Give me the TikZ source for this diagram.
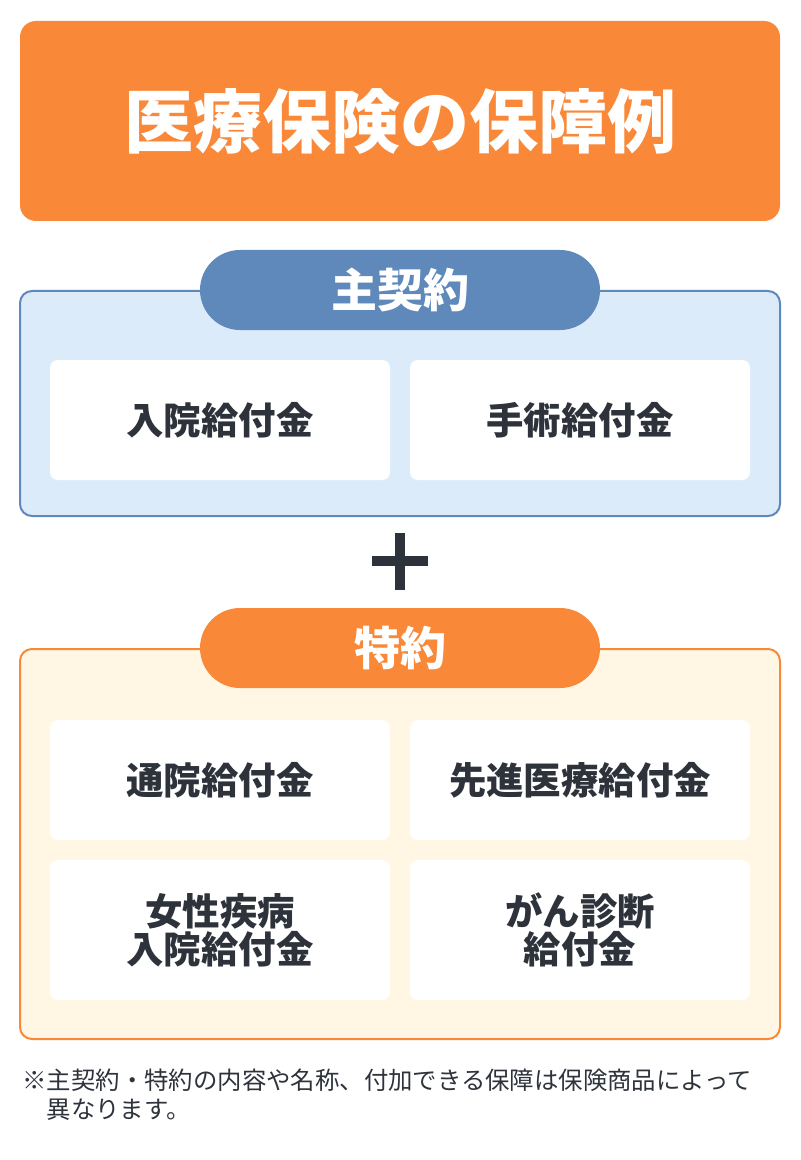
\documentclass[tikz,border=0pt]{standalone}
\usepackage{fontspec}
\setmainfont{Noto Sans CJK JP}
\usetikzlibrary{positioning}
\definecolor{hdorange}{HTML}{F98838}
\definecolor{mainblue}{HTML}{5E89BA}
\definecolor{mainfill}{HTML}{DCEBFA}
\definecolor{subfill}{HTML}{FFF7E4}
\definecolor{txtdark}{HTML}{2E333B}

\begin{document}
\begin{tikzpicture}[x=0.5pt,y=-0.5pt,
  item/.style={fill=white, rounded corners=4pt, minimum width=170pt, minimum height=60pt,
    inner sep=0pt, align=center, text=txtdark, font=\bfseries\fontsize{18.7}{19}\selectfont},
  tallitem/.style={item, minimum height=70pt},
  pill/.style={rounded corners=20pt, minimum width=200pt, minimum height=40pt, inner sep=0pt,
    text=white, font=\bfseries\fontsize{23}{24}\selectfont}]
\useasboundingbox (0,0) rectangle (800,1160);
% title
\node[fill=hdorange, rounded corners=8pt, minimum width=380pt, minimum height=100pt, text=white,
  font=\bfseries\fontsize{34.5}{36}\selectfont] (title) at (400,121) {医療保険の保障例};
% main contract
\draw[rounded corners=6pt, draw=mainblue, fill=mainfill, line width=1pt] (20,291) rectangle (780,516);
\node[pill, fill=mainblue] (shu) at (400,290) {主契約};
\node[item] (nyuin) at (220,420) {入院給付金};
\node[item] (shujutsu) at (580,420) {手術給付金};
% plus
\coordinate (plus) at (400,561);
\draw[txtdark, line width=4.6pt] ([xshift=-14pt]plus) -- ([xshift=14pt]plus);
\draw[txtdark, line width=4.6pt] ([yshift=14pt]plus) -- ([yshift=-14.5pt]plus);
% riders
\draw[rounded corners=6pt, draw=hdorange, fill=subfill, line width=1pt] (20,649) rectangle (780,1039);
\node[pill, fill=hdorange] (toku) at (400,648) {特約};
\node[item] (tsuin) at (220,780) {通院給付金};
\node[item] (senshin) at (580,780) {先進医療給付金};
\node[tallitem] (josei) at (220,930) {女性疾病\\入院給付金};
\node[tallitem] (gan) at (580,930) {がん診断\\給付金};
% note
\node[anchor=north west, inner sep=0pt, align=left, text=txtdark, font=\fontsize{12.2}{14.5}\selectfont]
  (note) at (22,1069) {※主契約・特約の内容や名称、付加できる保障は保険商品によって\\\hspace*{1em}異なります。};
\end{tikzpicture}
\end{document}
